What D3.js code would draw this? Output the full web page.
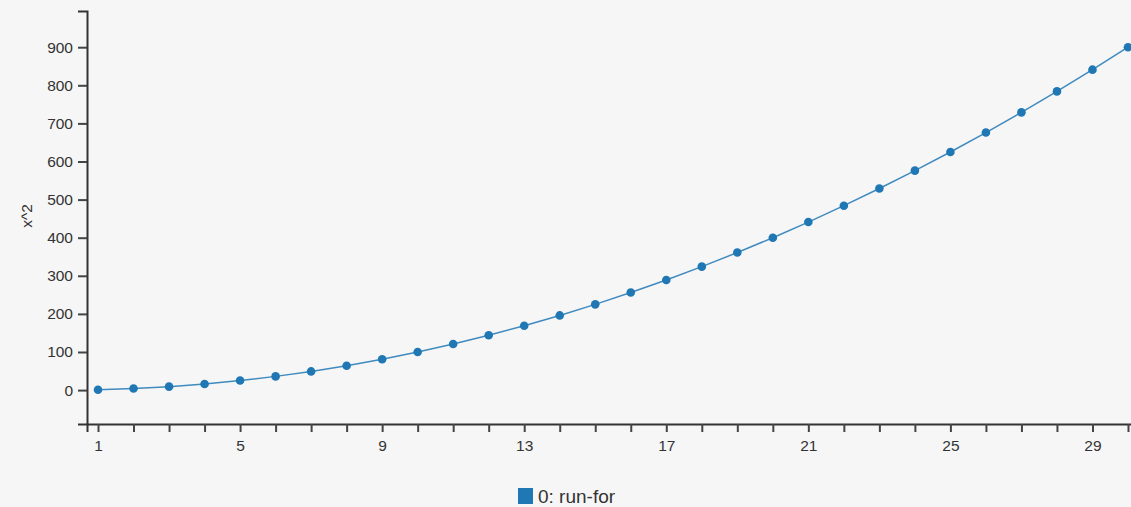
<!DOCTYPE html>
<html><head><meta charset="utf-8">
<script src="https://cdn.jsdelivr.net/npm/d3@7"></script>
<style>
html,body{margin:0;padding:0;background:#f6f6f6;overflow:hidden;}
svg{display:block;font-family:"Liberation Sans",Arial,sans-serif;}
</style></head>
<body>
<script>
const xValues = [1,2,3,4,5,6,7,8,9,10,11,12,13,14,15,16,17,18,19,20,21,22,23,24,25,26,27,28,29,30];
const yValues = [1,4,9,16,25,36,49,64,81,100,121,144,169,196,225,256,289,324,361,400,441,484,529,576,625,676,729,784,841,900];
const yTicks = [0,100,200,300,400,500,600,700,800,900];
const xLabelTicks = [1,5,9,13,17,21,25,29];
const seriesName = "0: run-for";
const yLabel = "x^2";

const W = 1131, H = 507;
const svg = d3.select("body").append("svg").attr("width", W).attr("height", H);
const x = d3.scaleLinear().domain([0.69, 30.31]).range([87, 1139]);
const y = d3.scaleLinear().domain([-89, 995]).range([424, 11]);
const color = "#1f77b4";

const gx = svg.append("g").attr("transform", "translate(0,424)")
  .call(d3.axisBottom(x).tickValues(xValues).tickSize(8).tickSizeOuter(8)
    .tickFormat(d => xLabelTicks.includes(d) ? d : ""));
const gy = svg.append("g").attr("transform", "translate(87,0)")
  .call(d3.axisLeft(y).tickValues(yTicks).tickSize(9).tickSizeOuter(9));
[gx, gy].forEach(g => {
  g.attr("font-size", null).attr("font-family", null);
  g.select(".domain").attr("stroke", "#333").attr("stroke-width", 2);
  g.selectAll(".tick line").attr("stroke", "#444").attr("stroke-width", 2);
  g.selectAll(".tick text").attr("fill", "#333").style("font-size", "15.5px")
    .style("font-family", "Liberation Sans, Arial, sans-serif");
});
gx.selectAll(".tick text").attr("dy", null).attr("y", 27);
gy.selectAll(".tick text").attr("x", -14);

svg.append("text").attr("transform", "translate(32,216) rotate(-90)")
  .attr("text-anchor", "middle").style("font-size", "15.5px").attr("fill", "#333").text(yLabel);

const data = xValues.map((v, i) => ({x: v, y: yValues[i]}));
svg.append("path").datum(data)
  .attr("fill", "none").attr("stroke", color).attr("stroke-width", 1.5).attr("opacity", 0.85)
  .attr("d", d3.line().x(d => x(d.x)).y(d => y(d.y)));
svg.append("g").selectAll("circle").data(data).join("circle")
  .attr("cx", d => x(d.x)).attr("cy", d => y(d.y)).attr("r", 4.3).attr("fill", color);

const lg = svg.append("g").attr("transform", "translate(518,488)");
lg.append("rect").attr("width", 15).attr("height", 16).attr("fill", color);
lg.append("text").attr("x", 20).attr("y", 15).style("font-size", "19px").attr("fill", "#333").text(seriesName);
</script>
</body></html>
